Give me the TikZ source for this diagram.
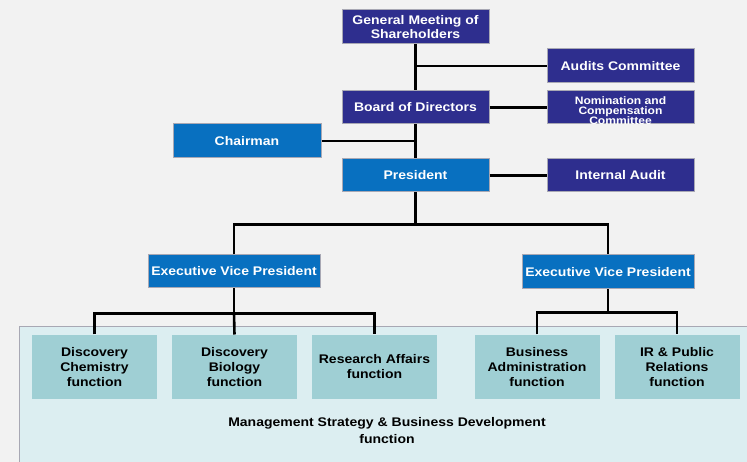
\documentclass[tikz,border=0pt]{standalone}
\usepackage{fontspec}
\setmainfont{Liberation Sans}[FakeStretch=1.12]
\definecolor{bgc}{HTML}{F2F2F2}
\definecolor{navy}{HTML}{2E2E8E}
\definecolor{midblue}{HTML}{0870C0}
\definecolor{teal}{HTML}{9FCFD4}
\definecolor{panelc}{HTML}{DCEEF1}
\definecolor{edgec}{HTML}{A8A8B4}
\begin{document}
\begin{tikzpicture}[x=1pt,y=-1pt,
  base/.style={draw=edgec,line width=1pt,inner sep=0pt,align=center,font=\bfseries\fontsize{12.5}{13.5}\selectfont},
  navybox/.style={base,fill=navy,text=white,minimum width=147pt,minimum height=34pt},
  bluebox/.style={base,fill=midblue,text=white,minimum height=34pt},
  funcbox/.style={base,draw=none,fill=teal,text=black,minimum width=125pt,minimum height=64pt,font=\bfseries\fontsize{12.5}{15}\selectfont},
  conn/.style={line width=2.6pt,draw=black}]
\path[fill=bgc] (0,0) rectangle (747,462);
\useasboundingbox (0,0) rectangle (747,462);
% panel
\path[fill=panelc,draw=edgec,line width=1pt] (19,327) rectangle (760,475);
% nodes
\node[navybox] (gm) at (415.5,27) {General Meeting of\\Shareholders};
\node[navybox] (ac) at (620.5,66) {Audits Committee};
\node[navybox,minimum height=33pt] (bd) at (415.5,107.5) {Board of Directors};
\node[navybox,minimum height=33pt] (nc) at (620.5,107.5) {};
\begin{scope}
\clip (547,91) rectangle (694,124);
\node[base,draw=none,text=white,font=\bfseries\fontsize{10.8}{10.2}\selectfont] (nct) at (620.5,110.5) {Nomination and\\Compensation\\Committee};
\end{scope}
\node[bluebox,minimum width=148pt] (ch) at (247,141) {Chairman};
\node[bluebox,minimum width=147pt,minimum height=33pt] (pr) at (415.5,175.5) {President};
\node[navybox,minimum height=33pt] (ia) at (620.5,175.5) {Internal Audit};
\node[bluebox,minimum width=172pt,minimum height=33pt] (evl) at (234,271.5) {Executive Vice President};
\node[bluebox,minimum width=172pt] (evr) at (608,272) {Executive Vice President};
\node[funcbox] (dc) at (94.5,367) {Discovery\\Chemistry\\function};
\node[funcbox] (db) at (234.5,367) {Discovery\\Biology\\function};
\node[funcbox] (ra) at (374.5,367) {Research Affairs\\function};
\node[funcbox] (ba) at (537,367) {Business\\Administration\\function};
\node[funcbox] (ir) at (677,367) {IR \& Public\\Relations\\function};
\node[base,draw=none,text=black,font=\bfseries\fontsize{12.5}{16.5}\selectfont] (ms) at (387,430.5) {Management Strategy \& Business Development\\function};
% connectors
\draw[conn] (gm.south) -- (bd.north);
\draw[conn] (gm.south |- ac.west) -- (ac.west);
\draw[conn] (bd.east) -- (nc.west);
\draw[conn] (bd.south) -- (pr.north);
\draw[conn] (ch.east) -- (bd.south |- ch.east);
\draw[conn] (pr.east) -- (ia.west);
\draw[conn] (pr.south) -- ++(0,32) coordinate (j1);
\draw[conn] (evl.north) |- (j1) -| (evr.north);
\draw[conn] (evl.south) -- ++(0,25) coordinate (j2);
\draw[conn] (dc.north) |- (j2) -| (ra.north);
\draw[conn] (j2) -- (db.north);
\draw[conn] (evr.south) -- ++(0,23) coordinate (j3);
\draw[conn] (ba.north) |- (j3) -| (ir.north);
\end{tikzpicture}
\end{document}
